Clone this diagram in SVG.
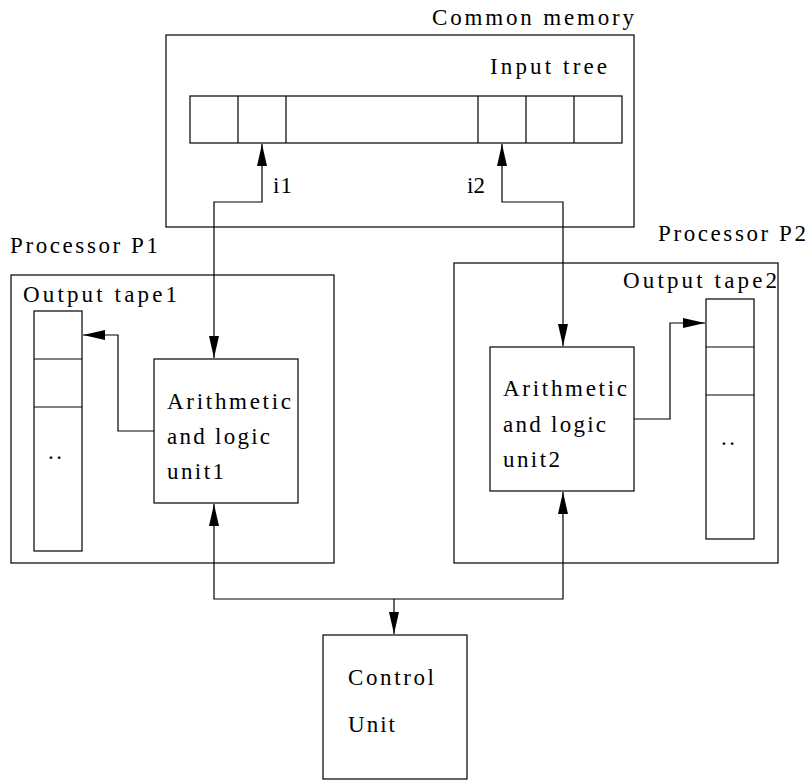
<svg xmlns="http://www.w3.org/2000/svg" width="807" height="781" viewBox="0 0 807 781" font-family="Liberation Serif, DejaVu Serif, Times New Roman, serif" font-size="23">
<style>
.box{fill:none;stroke:#000;stroke-width:1.2}
.ln{fill:none;stroke:#000;stroke-width:1.2}
.arr2{marker-start:url(#ah);marker-end:url(#ah)}
.arr1{marker-end:url(#ah)}
</style>
<defs>
<marker id="ah" markerUnits="userSpaceOnUse" markerWidth="22" markerHeight="10" refX="22" refY="5" orient="auto-start-reverse" overflow="visible">
<path d="M0,0 L22,5 L0,10 z" fill="#000"/>
</marker>
</defs>
<rect width="807" height="781" fill="#fff"/>
<g id="common-memory">
<rect class="box" x="166" y="35" width="468" height="192"/>
<text x="432" y="25" textLength="202" lengthAdjust="spacing">Common memory</text>
</g>
<g id="input-tree">
<rect class="box" x="190" y="96" width="432" height="47"/>
<path class="ln" d="M238,96V143M286,96V143M478,96V143M526,96V143M574,96V143"/>
<text x="490" y="74" textLength="117" lengthAdjust="spacing">Input tree</text>
</g>
<g id="processor-p1">
<rect class="box" x="11" y="275" width="323" height="288"/>
<text x="10" y="253" textLength="148" lengthAdjust="spacing">Processor P1</text>
</g>
<g id="output-tape1">
<rect class="box" x="34" y="311" width="48" height="240"/>
<path class="ln" d="M34,359H82M34,407H82"/>
<text x="23" y="302" textLength="154" lengthAdjust="spacing">Output tape1</text>
<text x="48" y="459" textLength="14" lengthAdjust="spacing">..</text>
</g>
<g id="alu1">
<rect class="box" x="154" y="359" width="144" height="144"/>
<text x="167" y="409" textLength="124" lengthAdjust="spacing">Arithmetic</text>
<text x="167" y="444" textLength="103" lengthAdjust="spacing">and logic</text>
<text x="167" y="479" textLength="57" lengthAdjust="spacing">unit1</text>
</g>
<g id="processor-p2">
<rect class="box" x="454" y="263" width="324" height="300"/>
<text x="658" y="241" textLength="148" lengthAdjust="spacing">Processor P2</text>
</g>
<g id="output-tape2">
<rect class="box" x="706" y="299" width="48" height="240"/>
<path class="ln" d="M706,347H754M706,395H754"/>
<text x="623" y="288" textLength="154" lengthAdjust="spacing">Output tape2</text>
<text x="721" y="445" textLength="14" lengthAdjust="spacing">..</text>
</g>
<g id="alu2">
<rect class="box" x="490" y="347" width="144" height="144"/>
<text x="503" y="396" textLength="124" lengthAdjust="spacing">Arithmetic</text>
<text x="503" y="432" textLength="103" lengthAdjust="spacing">and logic</text>
<text x="503" y="467" textLength="57" lengthAdjust="spacing">unit2</text>
</g>
<g id="control-unit">
<rect class="box" x="323" y="635" width="144" height="144"/>
<text x="348" y="685" textLength="86" lengthAdjust="spacing">Control</text>
<text x="348" y="732" textLength="47" lengthAdjust="spacing">Unit</text>
</g>
<g id="connectors">
<path class="ln arr2" d="M214,358V202H262V144"/>
<path class="ln arr2" d="M563,346V202H502V144"/>
<path class="ln arr2" d="M214,504V599H563V492"/>
<path class="ln arr1" d="M394,599V634"/>
<path class="ln arr1" d="M154,431H118V335H83"/>
<path class="ln arr1" d="M634,419H670V323H705"/>
<text x="273" y="193" textLength="19" lengthAdjust="spacing">i1</text>
<text x="467" y="193" textLength="18" lengthAdjust="spacing">i2</text>
</g>
</svg>
